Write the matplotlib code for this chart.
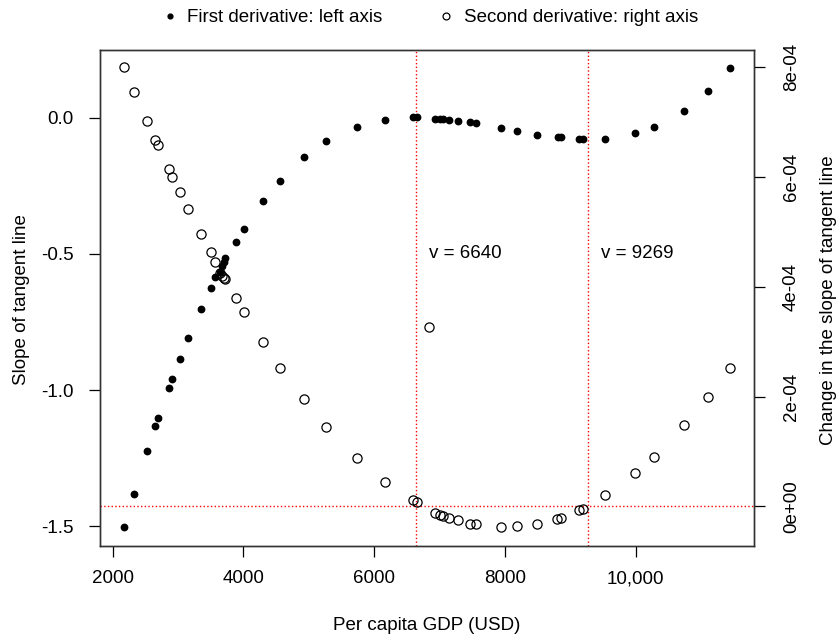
import numpy as np
import matplotlib.pyplot as plt

plt.rcParams['font.family'] = ['Liberation Sans', 'DejaVu Sans']

# first derivative (filled dots, left axis)
gdp_first = [2173, 2321, 2524, 2652, 2693, 2856, 2907, 3024, 3151, 3346, 3498,
             3572, 3641, 3676, 3706, 3725, 3881, 4003, 4294, 4553, 4930, 5266,
             5731, 6159, 6600, 6660, 6935, 7000, 7060, 7150, 7278, 7459, 7550,
             7937, 8182, 8493, 8809, 8860, 9135, 9187, 9538, 9991, 10277, 10736,
             11107, 11439]
slope = [-1.504, -1.381, -1.225, -1.131, -1.103, -0.993, -0.958, -0.887, -0.810,
         -0.702, -0.624, -0.583, -0.566, -0.544, -0.528, -0.515, -0.455, -0.409,
         -0.307, -0.232, -0.145, -0.085, -0.032, -0.006, 0.003, 0.003, -0.003,
         -0.004, -0.004, -0.006, -0.010, -0.016, -0.018, -0.038, -0.049, -0.063,
         -0.072, -0.072, -0.077, -0.078, -0.076, -0.056, -0.032, 0.027, 0.099,
         0.184]

# second derivative (open circles, right axis), values in units of 1e-4
gdp_second = [2173, 2321, 2524, 2652, 2693, 2856, 2907, 3024, 3151, 3346, 3498,
              3572, 3641, 3676, 3706, 3725, 3881, 4003, 4294, 4553, 4930, 5266,
              5731, 6159, 6600, 6660, 6842, 6935, 7000, 7060, 7150, 7278, 7459,
              7550, 7937, 8182, 8493, 8798, 8855, 9135, 9192, 9538, 9991, 10277,
              10736, 11107, 11439]
change_e4 = [8.00, 7.56, 7.02, 6.68, 6.58, 6.15, 6.01, 5.72, 5.42, 4.96, 4.63,
             4.45, 4.26, 4.20, 4.17, 4.14, 3.80, 3.55, 3.00, 2.53, 1.95, 1.45,
             0.88, 0.45, 0.115, 0.084, 3.27, -0.128, -0.164, -0.18, -0.22, -0.255,
             -0.32, -0.33, -0.38, -0.36, -0.32, -0.23, -0.21, -0.07, -0.04, 0.20,
             0.60, 0.90, 1.48, 2.00, 2.53]
change = np.array(change_e4) * 1e-4

inflections = [6640, 9269]

x_ticks = [2000, 4000, 6000, 8000, 10000]
x_tick_labels = ['2000', '4000', '6000', '8000', '10,000']
left_ticks = [-1.5, -1.0, -0.5, 0.0]
left_tick_labels = ['-1.5', '-1.0', '-0.5', '0.0']
right_ticks = [0, 2e-4, 4e-4, 6e-4, 8e-4]
right_tick_labels = ['0e+00', '2e-04', '4e-04', '6e-04', '8e-04']

fs = 13.5
fig = plt.figure(figsize=(8.37, 6.39), dpi=100)
ax = fig.add_axes([0.1195, 0.146, 0.781, 0.776])
ax2 = ax.twinx()

for v in inflections:
    ax.axvline(v, color='red', ls=':', lw=1)
    ax.text(v + 760, -0.5, 'v = %d' % v, ha='center', va='center', fontsize=fs)
ax2.axhline(0, color='red', ls=':', lw=1)

p1, = ax.plot(gdp_first, slope, 'o', color='black', ms=4.6,
              label='First derivative: left axis')
p2, = ax2.plot(gdp_second, change, 'o', mfc='none', mec='black', ms=6.6, mew=0.9,
               label='Second derivative: right axis')

ax.set_xlim(1806, 11806)
ax.set_ylim(-1.572, 0.25)
ax2.set_ylim(-7.18e-5, 8.32e-4)

ax.set_xticks(x_ticks, x_tick_labels, fontsize=fs)
ax.set_yticks(left_ticks, left_tick_labels, fontsize=fs)
ax2.set_yticks(right_ticks, right_tick_labels, fontsize=fs, rotation=90, va='center')

ax.tick_params(axis='x', length=8, width=0.9, pad=9.5)
ax.tick_params(axis='y', length=8, width=0.9, pad=11)
ax2.tick_params(axis='y', length=8, width=0.9, pad=13)
for a in (ax, ax2):
    for s in a.spines.values():
        s.set_linewidth(1.0)
        s.set_color('#333333')

fig.text(22 / 837, 1 - 300 / 639, 'Slope of tangent line', rotation=90,
         ha='center', va='center', fontsize=fs)
fig.text(829 / 837, 1 - 300 / 639, 'Change in the slope of tangent line',
         rotation=90, ha='center', va='center', fontsize=fs)
fig.text(427 / 837, 1 - 626 / 639, 'Per capita GDP (USD)', ha='center',
         va='center', fontsize=fs)

fig.legend(handles=[p1, p2], loc='center', bbox_to_anchor=(0.513, 0.972), ncol=2,
           frameon=False, handlelength=1, handletextpad=0.45, columnspacing=2.9,
           fontsize=fs, markerscale=0.75)

fig.savefig('out.png', dpi=100)
